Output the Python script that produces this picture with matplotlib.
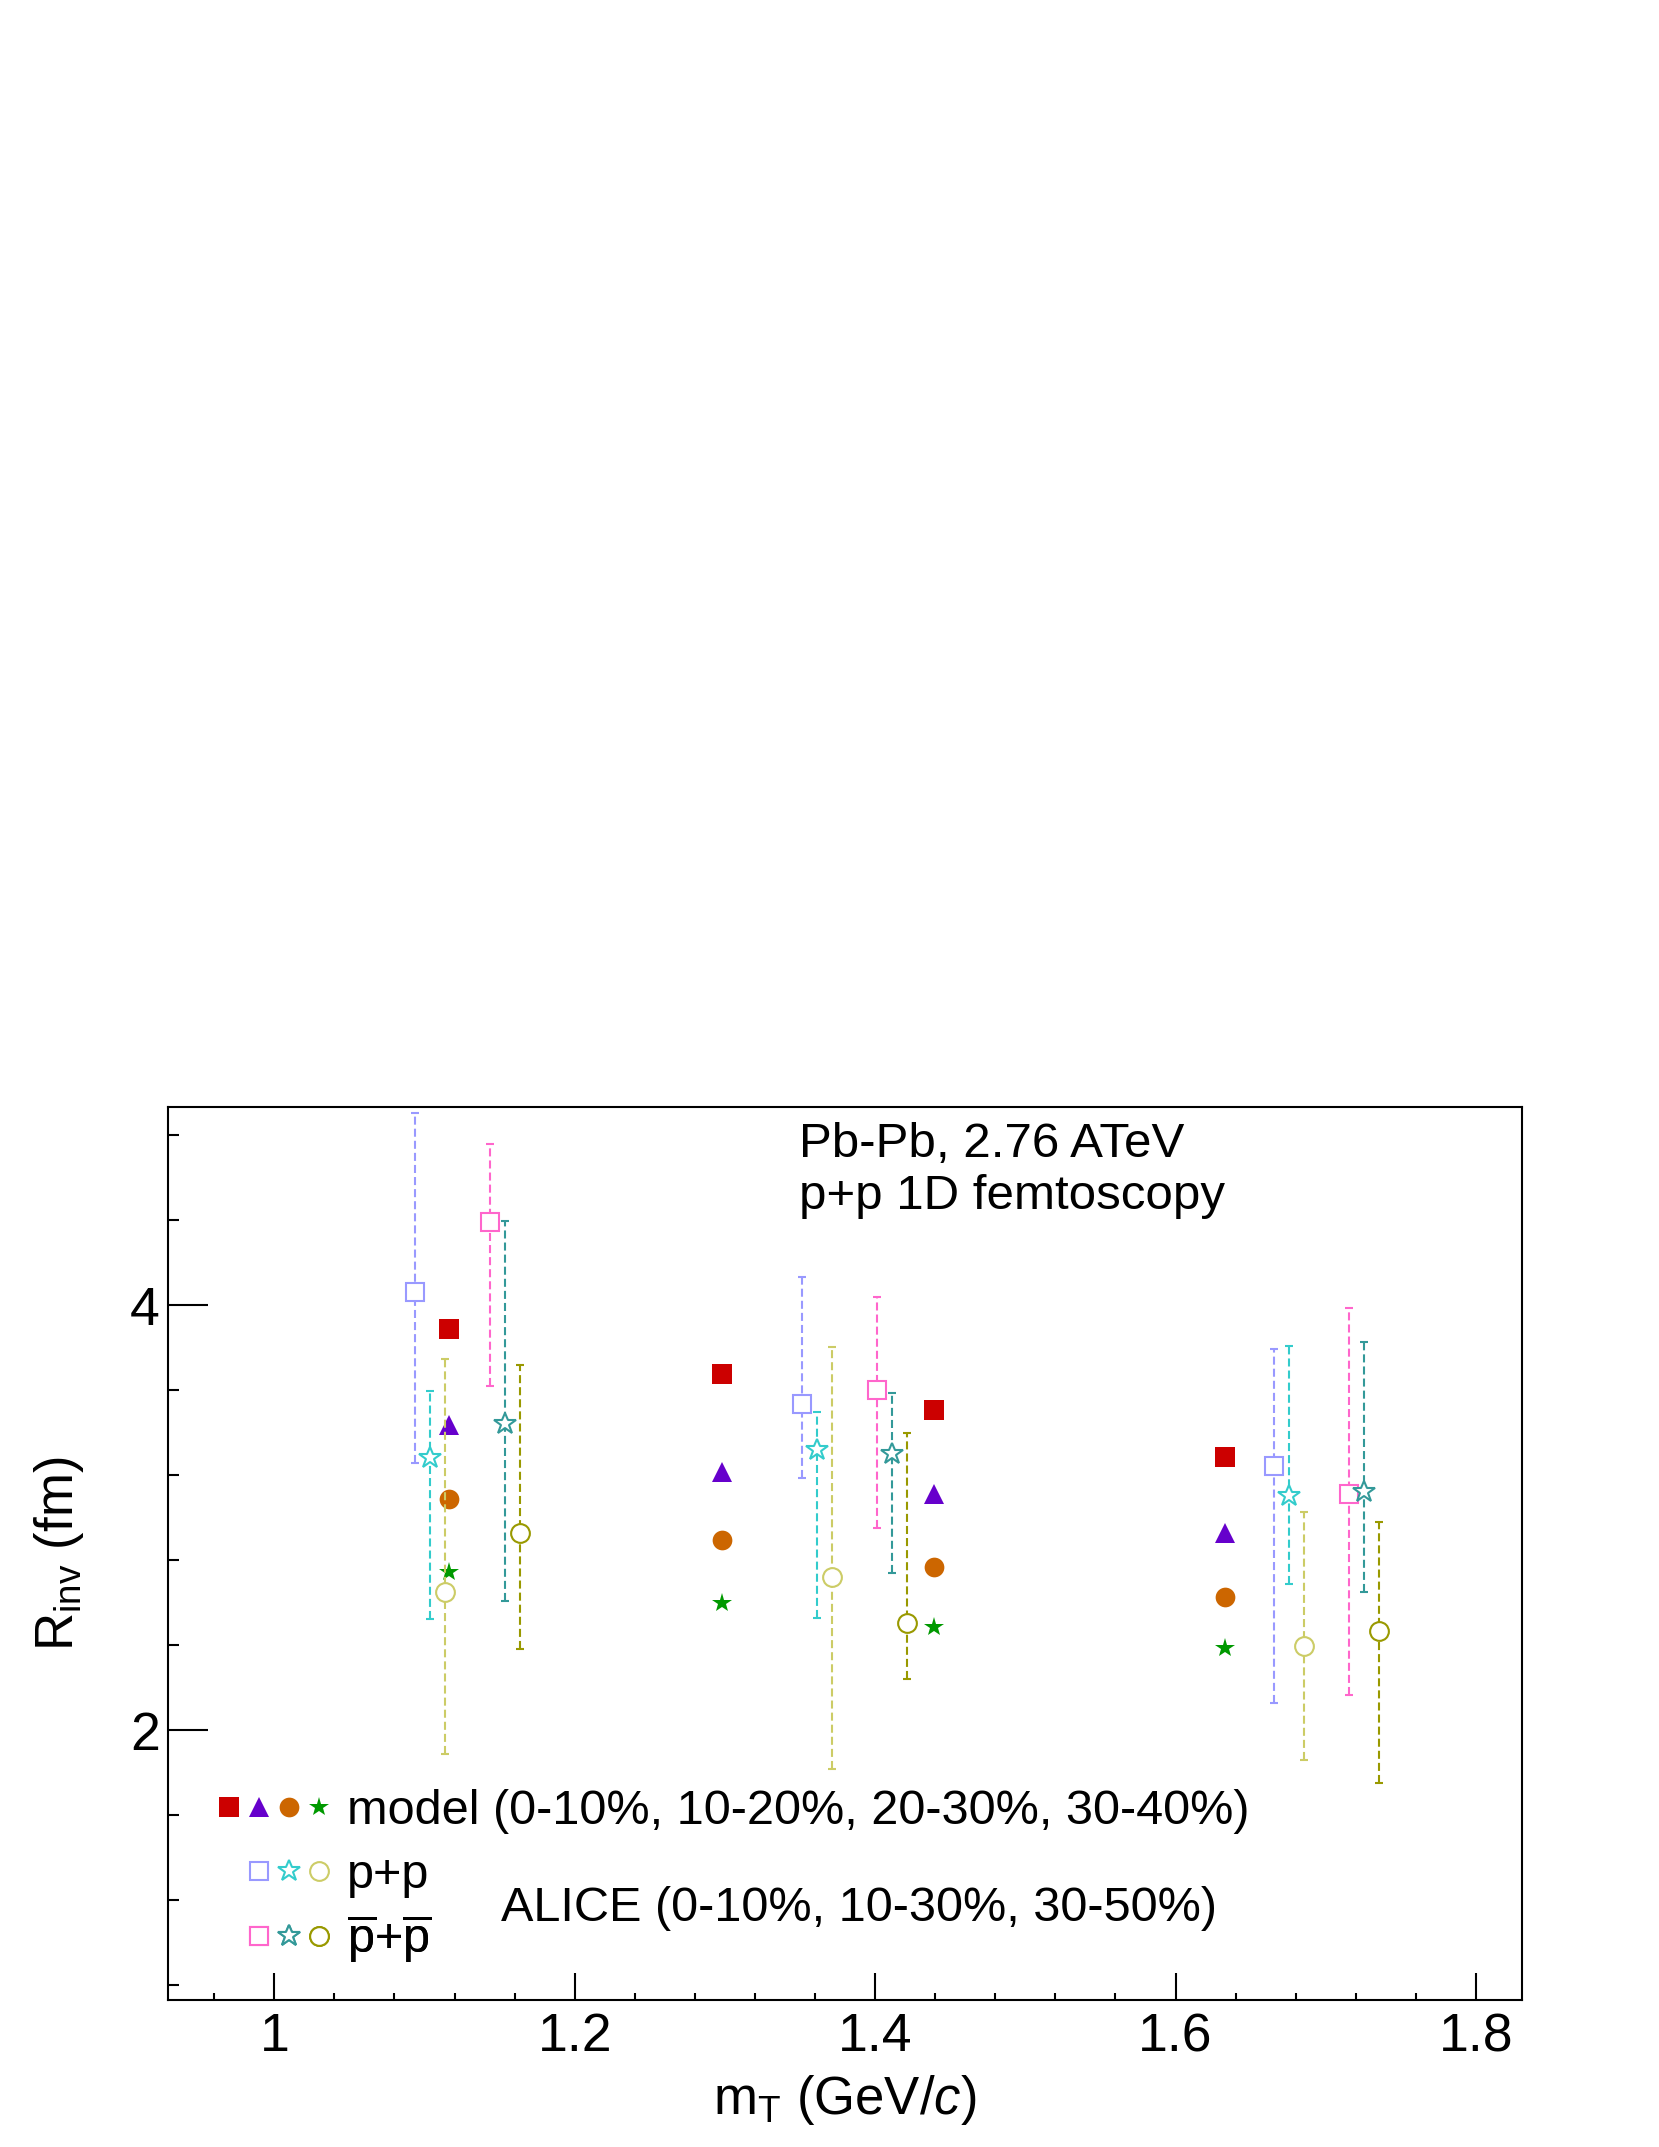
import numpy as np
import matplotlib
matplotlib.use('Agg')
import matplotlib.pyplot as plt
from matplotlib.legend_handler import HandlerTuple
from matplotlib.lines import Line2D
from matplotlib.ticker import MultipleLocator, FuncFormatter

plt.rcParams['font.family'] = ['Liberation Sans', 'DejaVu Sans']
plt.rcParams['mathtext.fontset'] = 'custom'
plt.rcParams['mathtext.rm'] = 'Liberation Sans'
plt.rcParams['mathtext.it'] = 'Liberation Sans:italic'
plt.rcParams['mathtext.bf'] = 'Liberation Sans:bold'
plt.rcParams['lines.scale_dashes'] = False

# ---------------- data ----------------
model_mt = [1.116, 1.298, 1.439, 1.633]
model_0_10 = [3.888, 3.677, 3.506, 3.286]
model_10_20 = [3.435, 3.214, 3.112, 2.929]
model_20_30 = [3.086, 2.894, 2.768, 2.627]
model_30_40 = [2.745, 2.599, 2.486, 2.387]

pp_0_10_mt = [1.0935, 1.3513, 1.6654]
pp_0_10 = [4.060, 3.533, 3.241]
pp_0_10_lo = [3.255, 3.184, 2.126]
pp_0_10_hi = [4.905, 4.133, 3.793]

pp_10_30_mt = [1.1037, 1.3613, 1.6754]
pp_10_30 = [3.279, 3.318, 3.101]
pp_10_30_lo = [2.521, 2.529, 2.690]
pp_10_30_hi = [3.597, 3.498, 3.809]

pp_30_50_mt = [1.1137, 1.3713, 1.6853]
pp_30_50 = [2.649, 2.721, 2.398]
pp_30_50_lo = [1.889, 1.818, 1.859]
pp_30_50_hi = [3.746, 3.804, 3.026]

pbar_0_10_mt = [1.1436, 1.4011, 1.7155]
pbar_0_10 = [4.389, 3.601, 3.109]
pbar_0_10_lo = [3.619, 2.951, 2.165]
pbar_0_10_hi = [4.756, 4.036, 3.984]

pbar_10_30_mt = [1.1534, 1.4115, 1.7253]
pbar_10_30 = [3.440, 3.297, 3.120]
pbar_10_30_lo = [2.609, 2.740, 2.648]
pbar_10_30_hi = [4.397, 3.587, 3.824]

pbar_30_50_mt = [1.1636, 1.4212, 1.7355]
pbar_30_50 = [2.928, 2.502, 2.467]
pbar_30_50_lo = [2.383, 2.239, 1.752]
pbar_30_50_hi = [3.718, 3.399, 2.977]

model_label = 'model (0-10%, 10-20%, 20-30%, 30-40%)'
pp_label = 'p+p'
pbar_label = r'$\overline{\mathregular{p}}$+$\overline{\mathregular{p}}$'
alice_label = 'ALICE (0-10%, 10-30%, 30-50%)'
info_lines = ['Pb-Pb, 2.76 ATeV', 'p+p 1D femtoscopy']

# ---------------- styles ----------------
C_RED, C_PUR, C_ORA, C_GRN = '#cc0000', '#6600cc', '#cc6600', '#009900'
C_LAV, C_CYA, C_KHA = '#9999ff', '#33cccc', '#cccc66'
C_PNK, C_TEA, C_OLI = '#ff66cc', '#339999', '#999900'

MS_SQ, MS_TRI, MS_CIR, MS_STAR = 14.4, 13.7, 14.2, 14.6
MS_OSQ, MS_OCIR, MS_OSTAR = 13.5, 13.5, 16.5
LW = 1.5
DASH = (0, (5.8, 2.9))

fig = plt.figure(figsize=(16.59, 21.47), dpi=100)
fig.patch.set_facecolor('white')
ax = fig.add_axes([0.10145, 0.06847, 0.81579, 0.41579])

# model markers
ax.plot(model_mt, model_0_10, ls='none', marker='s', ms=MS_SQ, mew=0, color=C_RED, zorder=3)
ax.plot(model_mt, model_10_20, ls='none', marker='^', ms=MS_TRI, mew=0, color=C_PUR, zorder=3)
ax.plot(model_mt, model_20_30, ls='none', marker='o', ms=MS_CIR, mew=0, color=C_ORA, zorder=3)
ax.plot(model_mt, model_30_40, ls='none', marker='*', ms=MS_STAR, mew=0, color=C_GRN, zorder=3)


def alice(x, y, lo, hi, color, marker, ms):
    y = np.asarray(y)
    yerr = [y - np.asarray(lo), np.asarray(hi) - y]
    eb = ax.errorbar(x, y, yerr=yerr, fmt=marker, ms=ms, mfc='white', mec=color,
                     mew=LW, ecolor=color, elinewidth=LW, capsize=2.6,
                     capthick=LW, zorder=4)
    eb[2][0].set_linestyle(DASH)
    return eb


alice(pp_0_10_mt, pp_0_10, pp_0_10_lo, pp_0_10_hi, C_LAV, 's', MS_OSQ)
alice(pp_10_30_mt, pp_10_30, pp_10_30_lo, pp_10_30_hi, C_CYA, '*', MS_OSTAR)
alice(pp_30_50_mt, pp_30_50, pp_30_50_lo, pp_30_50_hi, C_KHA, 'o', MS_OCIR)
alice(pbar_0_10_mt, pbar_0_10, pbar_0_10_lo, pbar_0_10_hi, C_PNK, 's', MS_OSQ)
alice(pbar_10_30_mt, pbar_10_30, pbar_10_30_lo, pbar_10_30_hi, C_TEA, '*', MS_OSTAR)
alice(pbar_30_50_mt, pbar_30_50, pbar_30_50_lo, pbar_30_50_hi, C_OLI, 'o', MS_OCIR)

# ---------------- axes ----------------
ax.set_xlim(0.9294, 1.8305)
ax.set_ylim(0.731, 4.930)
ax.xaxis.set_major_locator(MultipleLocator(0.2))
ax.xaxis.set_minor_locator(MultipleLocator(0.04))
ax.yaxis.set_major_locator(MultipleLocator(2))
ax.yaxis.set_minor_locator(MultipleLocator(0.4))
fmt = FuncFormatter(lambda v, p: f'{v:g}')
ax.xaxis.set_major_formatter(fmt)
ax.yaxis.set_major_formatter(fmt)

for s in ax.spines.values():
    s.set_linewidth(LW)
ax.tick_params(axis='both', which='both', direction='in', top=False, right=False,
               width=LW, labelsize=38.5)
ax.tick_params(axis='x', which='major', length=19.7, pad=9)
ax.tick_params(axis='x', which='minor', length=5.0)
ax.tick_params(axis='y', which='major', length=28.8, pad=6)
ax.tick_params(axis='y', which='minor', length=7.7)

ax.set_xlabel(r'm$_{\mathregular{T}}$ (GeV/$\it{c}$)', fontsize=38)
ax.xaxis.set_label_coords(0.5, -0.0818)
ax.set_ylabel(r'R$_{\mathregular{inv}}$ (fm)', fontsize=38)
ax.yaxis.set_label_coords(-0.0608, 0.5)

# info text
ax.text(1.3493, 4.695, info_lines[0], fontsize=35.5, ha='left', va='baseline')
ax.text(1.3493, 4.450, info_lines[1], fontsize=35.5, ha='left', va='baseline')
ax.text(1.1507, 1.1026, alice_label, fontsize=35, ha='left', va='baseline')

# ---------------- legend rows ----------------
FS_LEG = 35
em = FS_LEG * 100 / 72.0
blank = Line2D([], [], ls='none', marker='None')


def mk(marker, color, ms, filled):
    if filled:
        return Line2D([], [], ls='none', marker=marker, ms=ms, mew=0, color=color)
    return Line2D([], [], ls='none', marker=marker, ms=ms, mfc='white', mec=color, mew=LW)


def add_row(handles, label, yc):
    leg = ax.legend([tuple(handles)], [label],
                    handler_map={tuple: HandlerTuple(ndivide=None, pad=0.0)},
                    loc='center left', bbox_to_anchor=(0.0338, yc),
                    bbox_transform=ax.transAxes, frameon=False, fontsize=FS_LEG,
                    handlelength=120 / em, handletextpad=13 / em, handleheight=0.7,
                    borderpad=0, borderaxespad=0)
    ax.add_artist(leg)


add_row([mk('s', C_RED, MS_SQ, True), mk('^', C_PUR, MS_TRI, True),
         mk('o', C_ORA, MS_CIR, True), mk('*', C_GRN, MS_STAR, True)],
        model_label, 0.2116)
add_row([blank, mk('s', C_LAV, MS_OSQ, False), mk('*', C_CYA, MS_OSTAR, False),
         mk('o', C_KHA, MS_OCIR, False)], pp_label, 0.1399)
add_row([blank, mk('s', C_PNK, MS_OSQ, False), mk('*', C_TEA, MS_OSTAR, False),
         mk('o', C_OLI, MS_OCIR, False)], pbar_label, 0.0687)

fig.savefig('out.png', dpi=100)
